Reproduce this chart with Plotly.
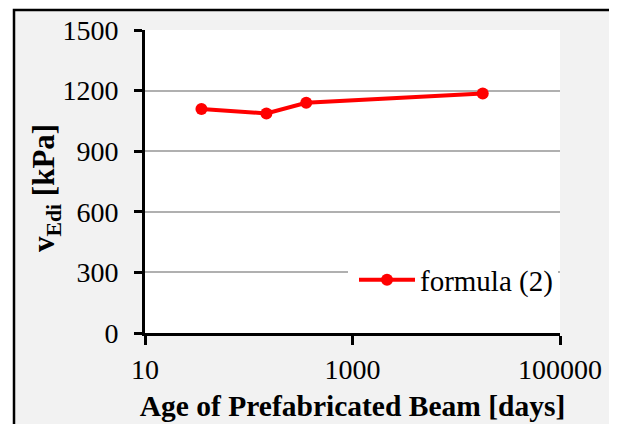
import plotly.graph_objects as go

age_days = [35, 148, 358, 18000]
v_edi_kpa = [1109, 1087, 1140, 1186]
series_name = "formula (2)"
y_ticks = [0, 300, 600, 900, 1200, 1500]
x_ticks = [10, 1000, 100000]
x_tick_labels = ["10", "1000", "100000"]

W, H = 617, 424
OFF = 8  # default page body margin in the browser
# plot area in reference pixel coordinates
RL, RT, RR, RB = 145, 30, 560, 333
L, T = RL - OFF, RT - OFF
pw, ph = RR - RL, RB - RT
R, B = W - L - pw, H - T - ph

def px_x(px):
    return (px - RL) / pw

def px_y(py):
    return (RB - py) / ph

FONT = "Liberation Serif"

fig = go.Figure()
fig.add_trace(go.Scatter(
    x=age_days, y=v_edi_kpa, name=series_name, mode="lines+markers",
    line=dict(color="#ff0000", width=4),
    marker=dict(color="#ff0000", size=12),
    showlegend=True,
))

shapes = [
    dict(type="rect", xref="paper", yref="paper", layer="below",
         x0=px_x(14), x1=px_x(W + 20), y0=px_y(H + 20), y1=px_y(10),
         fillcolor="#f2f2f2", line=dict(color="black", width=2.5)),
    dict(type="rect", xref="paper", yref="paper", layer="below",
         x0=0, x1=1, y0=0, y1=1, fillcolor="white", line=dict(width=0)),
    # extra white area left of the legend box (covers the grid line)
    dict(type="rect", xref="paper", yref="paper", layer="above",
         x0=px_x(348), x1=px_x(356), y0=px_y(292), y1=px_y(266),
         fillcolor="white", line=dict(width=0)),
]

fig.update_layout(
    width=W, height=H,
    margin=dict(l=L, r=R, t=T, b=B, autoexpand=False),
    paper_bgcolor="white", plot_bgcolor="white",
    font=dict(family=FONT, size=28, color="black"),
    shapes=shapes,
    showlegend=True,
    legend=dict(x=px_x(354), y=px_y(280), xanchor="left", yanchor="middle",
                bgcolor="white", borderwidth=0, itemwidth=56,
                font=dict(family=FONT, size=29, color="black"),
                tracegroupgap=0),
    annotations=[
        dict(text="<b>v<sub>Edi</sub> [kPa]</b>", xref="paper", yref="paper",
             x=px_x(46), y=px_y(188), xanchor="center", yanchor="middle",
             textangle=-90, showarrow=False,
             font=dict(family=FONT, size=31, color="black")),
    ],
    xaxis=dict(type="log", range=[1, 5], tickvals=x_ticks, ticktext=x_tick_labels,
               showgrid=False, zeroline=False, showline=True, linecolor="black",
               linewidth=3, ticks="outside", ticklen=9, tickwidth=2.5, tickcolor="black",
               tickfont=dict(family=FONT, size=28),
               title=dict(text="<b>Age of Prefabricated Beam [days]</b>",
                          font=dict(family=FONT, size=29.5), standoff=12)),
    yaxis=dict(range=[0, 1500], tickvals=y_ticks,
               showgrid=True, gridcolor="#b0b0b0", gridwidth=1.5,
               zeroline=False, showline=True, linecolor="black",
               linewidth=3, ticks="outside", ticklen=8, tickwidth=2.5, tickcolor="black",
               tickfont=dict(family=FONT, size=28), ticklabelstandoff=10),
)

fig.write_html("out.html")
